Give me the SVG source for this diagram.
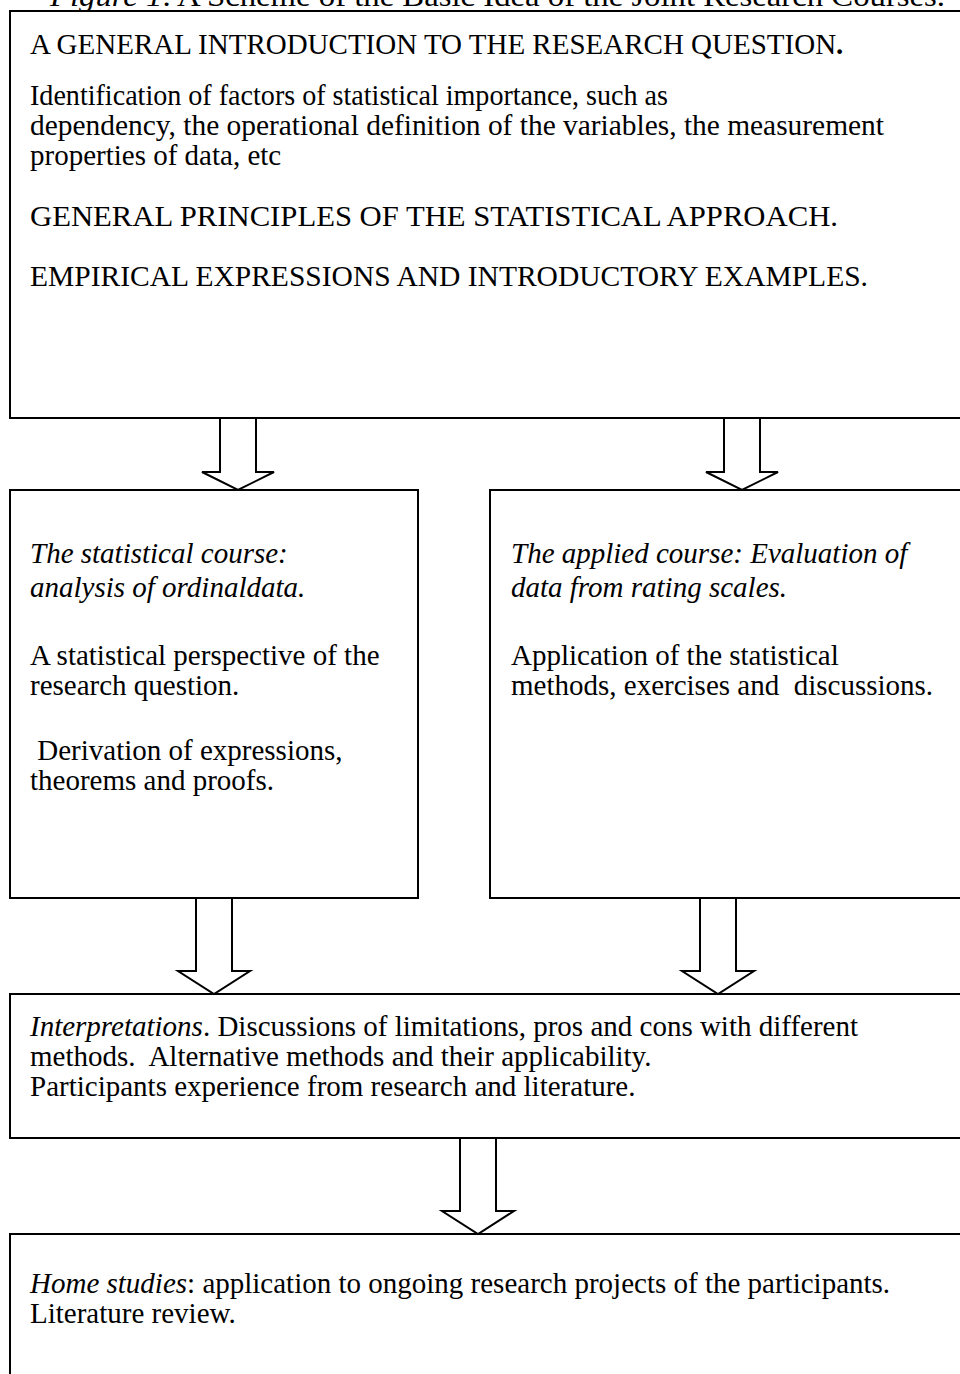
<svg xmlns="http://www.w3.org/2000/svg" width="960" height="1374" viewBox="0 0 960 1374">
<style>
.box{fill:#fff;stroke:#000;stroke-width:2}
.arrow{fill:#fff;stroke:#000;stroke-width:2;stroke-linejoin:miter}
text{font-family:"Liberation Serif","Times New Roman",serif;font-size:29px;fill:#000}
.it{font-style:italic}
.b{font-weight:bold}
</style>
<rect width="960" height="1374" fill="#fff"/>
<g id="title"><text x="50" y="6" textLength="895" lengthAdjust="spacingAndGlyphs"><tspan class="it">Figure 1</tspan>. A Scheme of the Basic Idea of the Joint Research Courses.</text></g>
<g id="intro">
<rect class="box" x="10" y="11" width="970" height="407"/>
<text x="30" y="54">A GENERAL INTRODUCTION TO THE RESEARCH QUESTION<tspan class="b">.</tspan></text>
<text x="30" y="105" textLength="638" lengthAdjust="spacingAndGlyphs">Identification of factors of statistical importance, such as</text>
<text x="30" y="135" textLength="854" lengthAdjust="spacingAndGlyphs">dependency, the operational definition of the variables, the measurement</text>
<text x="30" y="165">properties of data, etc</text>
<text x="30" y="226" textLength="808" lengthAdjust="spacingAndGlyphs">GENERAL PRINCIPLES OF THE STATISTICAL APPROACH.</text>
<text x="30" y="286" textLength="838" lengthAdjust="spacingAndGlyphs">EMPIRICAL EXPRESSIONS AND INTRODUCTORY EXAMPLES.</text>
</g>
<g id="statistical">
<rect class="box" x="10" y="490" width="408" height="408"/>
<text class="it" x="30" y="563">The statistical course:</text>
<text class="it" x="30" y="597">analysis of ordinaldata.</text>
<text x="30" y="665">A statistical perspective of the</text>
<text x="30" y="695">research question.</text>
<text x="30" y="760" xml:space="preserve"> Derivation of expressions,</text>
<text x="30" y="790">theorems and proofs.</text>
</g>
<g id="applied">
<rect class="box" x="490" y="490" width="490" height="408"/>
<text class="it" x="511" y="563">The applied course: Evaluation of</text>
<text class="it" x="511" y="597">data from rating scales.</text>
<text x="511" y="665">Application of the statistical</text>
<text x="511" y="695" xml:space="preserve">methods, exercises and  discussions.</text>
</g>
<g id="interpretations">
<rect class="box" x="10" y="994" width="970" height="144"/>
<text x="30" y="1036"><tspan class="it">Interpretations</tspan>. Discussions of limitations, pros and cons with different</text>
<text x="30" y="1066" xml:space="preserve">methods.  Alternative methods and their applicability.</text>
<text x="30" y="1096">Participants experience from research and literature.</text>
</g>
<g id="home">
<rect class="box" x="10" y="1234" width="970" height="160"/>
<text x="30" y="1293"><tspan class="it">Home studies</tspan>: application to ongoing research projects of the participants.</text>
<text x="30" y="1323">Literature review.</text>
</g>
<g id="connectors">
<polygon class="arrow" points="220,418 256,418 256,472 274,472 238,490 202,472 220,472"/>
<polygon class="arrow" points="724,418 760,418 760,472 778,472 742,490 706,472 724,472"/>
<polygon class="arrow" points="196,898 232,898 232,971 250,971 214,994 178,971 196,971"/>
<polygon class="arrow" points="700,898 736,898 736,971 754,971 718,994 682,971 700,971"/>
<polygon class="arrow" points="460,1138 496,1138 496,1211 514,1211 478,1234 442,1211 460,1211"/>
</g>
</svg>
